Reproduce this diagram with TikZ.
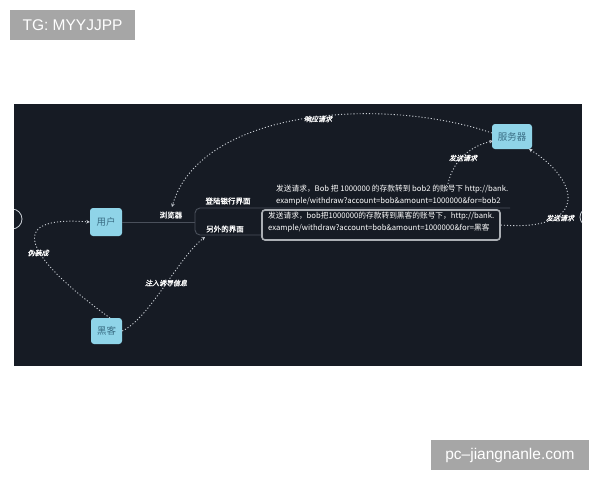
\documentclass[tikz,border=0pt]{standalone}
\usepackage{fontspec}
\setmainfont{Noto Sans CJK SC}
\newfontfamily\cjk{Noto Sans CJK SC}
\newfontfamily\cjkbf[FakeBold=1.2]{Noto Sans CJK SC}
\newfontfamily\cjkit[FakeSlant=0.25,FakeBold=1.2]{Noto Sans CJK SC}
\newfontfamily\wm{Liberation Sans}
\usetikzlibrary{arrows.meta}
\definecolor{panel}{HTML}{161B24}
\definecolor{nodefill}{HTML}{8FD4E8}
\definecolor{nodetext}{HTML}{3B6E85}
\definecolor{relcol}{HTML}{C9CED4}
\definecolor{branch}{HTML}{4A505B}
\definecolor{wmgrey}{HTML}{A6A6A6}
\tikzset{
  topic/.style={draw=none,fill=nodefill,rounded corners=3pt,inner sep=0pt,
    font=\cjk\fontsize{9.5}{10}\selectfont,text=nodetext},
  rel/.style={draw=relcol,line width=0.9pt,dash pattern=on 1.1pt off 2pt},
  relarrow/.style={rel,-{Stealth[length=3.5pt,width=3.5pt]}},
  rellabel/.style={font=\cjkit\fontsize{7}{8}\selectfont,text=white,inner sep=1pt},
  brlabel/.style={font=\cjkbf\fontsize{7.5}{8}\selectfont,text=white,inner sep=1pt},
  bodytext/.style={font=\cjk\fontsize{7.7}{11.5}\selectfont,text=white,inner sep=0pt,align=left},
  brline/.style={draw=branch,line width=0.9pt},
  wmbox/.style={fill=wmgrey,text=white,font=\wm\fontsize{15.5}{16}\selectfont,inner sep=0pt}
}
\begin{document}
\begin{tikzpicture}[x=1pt,y=-1pt]
\useasboundingbox (0,0) rectangle (600,480);
\fill[white] (0,0) rectangle (600,480);
% panel
\fill[panel] (14,104) rectangle (582,366);
% edge circles (clipped)
\begin{scope}
\clip (14,104) rectangle (582,366);
\draw[relcol,line width=0.8pt] (12,219) circle (10);
\draw[relcol,line width=0.8pt] (589,217) circle (9);
\end{scope}
% topics
\node[topic,minimum width=32pt,minimum height=28pt] (user) at (106,222) {用户};
\node[topic,minimum width=31pt,minimum height=26pt] (hacker) at (106.5,331) {黑客};
\node[topic,minimum width=40pt,minimum height=25pt] (server) at (512,136.5) {服务器};
% branch structure
\coordinate (junc) at (195,222);
\coordinate (topend) at (510,208);
\node[draw=relcol!85!black,line width=1.6pt,rounded corners=3pt,minimum width=238pt,minimum height=30pt,inner sep=0pt] (box2) at (381,225) {};
\draw[brline] (user.east) -- (junc);
\draw[brline,rounded corners=5pt] (topend) -- (195,208) -- (195,235) -- (box2.west |- 0,235);
\node[brlabel] (browser) at (171,215) {浏览器};
\node[brlabel] (login) at (228,201) {登陆银行界面};
\node[brlabel] (other) at (225,229) {另外的界面};
\node[bodytext,anchor=north west] (text1) at (276,185) {发送请求，Bob 把 1000000 的存款转到 bob2 的账号下 http://bank.\\example/withdraw?account=bob\&amount=1000000\&for=bob2};
\node[bodytext,anchor=north west] (text2) at (268,212) {发送请求，bob把1000000的存款转到黑客的账号下，http://bank.\\example/withdraw?account=bob\&amount=1000000\&for=黑客};
% relationships
\coordinate (srvL) at (492,133);
\coordinate (brTop) at (172,207);
\draw[relarrow] (srvL) .. controls (380,95) and (200,110) .. (brTop);
\node[rellabel] (l1) at (318,119) {响应请求};
\coordinate (t1src) at (447,190);
\coordinate (srvBL) at (493,141);
\draw[relarrow] (t1src) .. controls (450,162) and (470,146) .. (srvBL);
\node[rellabel] (l2) at (463,158) {发送请求};
\coordinate (srvBR) at (529,149);
\draw[relarrow] (box2.east) .. controls (588,232) and (582,182) .. (srvBR);
\node[rellabel] (l3) at (560,218) {发送请求};
\coordinate (hkTop) at (110,318);
\draw[relarrow] (hkTop) .. controls (30,260) and (0,215) .. (user.west);
\node[rellabel] (l4) at (38,253) {伪装成};
\coordinate (otherL) at (205,237);
\draw[relarrow] (hacker.east) .. controls (150,318) and (178,258) .. (otherL);
\node[rellabel] (l5) at (166,283) {注入诱导信息};
% watermarks
\node[wmbox,minimum width=125pt,minimum height=30pt] (wm1) at (72.5,25) {TG: MYYJJPP};
\node[wmbox,minimum width=158pt,minimum height=30pt] (wm2) at (510,455) {pc–jiangnanle.com};
\end{tikzpicture}
\end{document}
